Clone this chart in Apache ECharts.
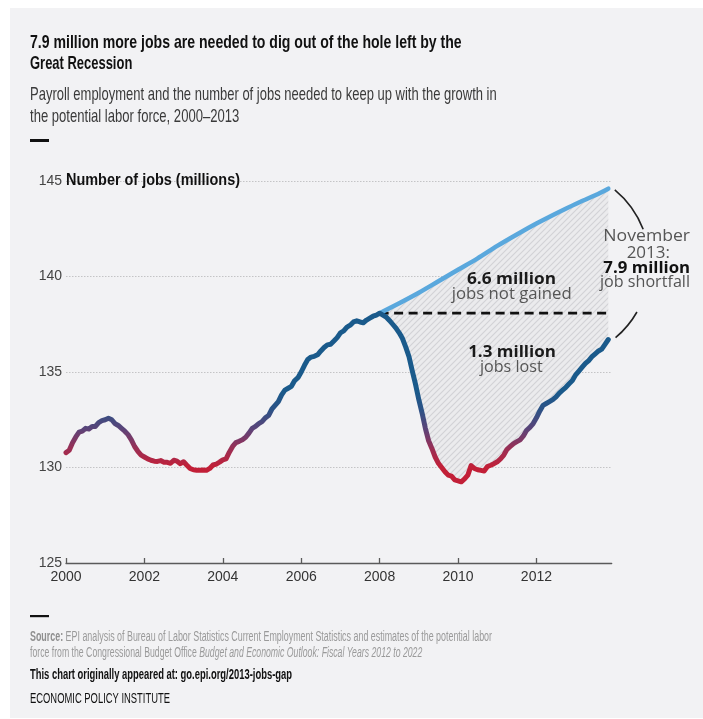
<!DOCTYPE html>
<html><head><meta charset="utf-8">
<script src="https://cdn.jsdelivr.net/npm/echarts@6/dist/echarts.min.js"></script>
<style>
html,body{margin:0;padding:0;background:#fff;}
#panel{position:absolute;left:10px;top:8px;width:693px;height:710px;background:#f2f2f4;}
#main{position:absolute;left:0;top:0;width:703px;height:719px;}
</style></head><body>
<div id="panel"></div><div id="main"></div>
<script>
// ---------------- DATA ----------------
const firstYear = 2000; // monthly series starting January 2000
// Payroll employment, millions, Jan 2000 - Nov 2013
const payrollJobs = [
  130.78,130.90,131.30,131.60,131.85,131.90,132.05,132.02,132.15,132.15,132.35,132.45,
  132.50,132.58,132.50,132.30,132.20,132.05,131.90,131.72,131.45,131.10,130.85,130.65,
  130.55,130.45,130.38,130.33,130.32,130.36,130.28,130.27,130.22,130.38,130.33,130.20,
  130.30,130.12,129.95,129.88,129.86,129.86,129.87,129.85,129.95,130.13,130.18,130.28,
  130.40,130.45,130.80,131.10,131.30,131.37,131.45,131.58,131.80,132.05,132.15,132.30,
  132.40,132.60,132.72,133.05,133.25,133.45,133.80,134.05,134.15,134.25,134.55,134.70,
  135.00,135.35,135.65,135.78,135.82,135.90,136.10,136.28,136.42,136.45,136.62,136.80,
  137.05,137.15,137.35,137.45,137.62,137.68,137.62,137.58,137.72,137.82,137.92,137.98,
  138.08,137.98,137.88,137.70,137.50,137.30,137.05,136.75,136.30,135.80,135.05,134.35,
  133.55,132.85,132.05,131.40,131.00,130.55,130.22,130.00,129.78,129.60,129.55,129.35,
  129.30,129.25,129.40,129.60,130.10,129.95,129.88,129.85,129.82,130.05,130.12,130.20,
  130.30,130.45,130.65,130.95,131.10,131.25,131.35,131.45,131.65,131.95,132.10,132.30,
  132.60,132.95,133.25,133.35,133.45,133.55,133.70,133.90,134.05,134.20,134.38,134.55,
  134.85,135.05,135.25,135.45,135.60,135.80,135.95,136.10,136.20,136.45,136.70
];
const peakIndex = 96; // January 2008
// Jobs needed to keep up with growth in the potential labor force
const potentialYears = [2008.0,2008.5,2009.0,2009.5,2010.0,2010.5,2011.0,2011.5,2012.0,2012.5,2013.0,2013.5,2013+10/12];
const potentialJobs  = [138.08,138.60,139.15,139.75,140.35,140.95,141.60,142.20,142.77,143.30,143.80,144.25,144.60];
const xTickYears = [2000,2002,2004,2006,2008,2010,2012];
const yTickValues = [125,130,135,140,145];

const titleLines = ['7.9 million more jobs are needed to dig out of the hole left by the','Great Recession'];
const subtitleLines = ['Payroll employment and the number of jobs needed to keep up with the growth in','the potential labor force, 2000\u20132013'];
const axisTitle = 'Number of jobs (millions)';

// ---------------- HELPERS ----------------
const mctx = document.createElement('canvas').getContext('2d');
function textW(t, font){ mctx.font = font; return mctx.measureText(t).width; }
function hasFont(name){
  const t='abcdefghijklmnopqrstuvwxyz0123456789';
  const a=textW(t,'40px monospace'), b=textW(t,"40px '"+name+"', monospace");
  const c=textW(t,'40px serif'), d=textW(t,"40px '"+name+"', serif");
  return a!==b || c!==d;
}
const NARROW = hasFont('Liberation Sans Narrow') ? "'Liberation Sans Narrow'" : "'Liberation Sans'";
const NARROW_OK = NARROW.indexOf('Narrow')>=0;
const OPEN = "'Open Sans'";

function fitLine(segs, x, y, target){
  const fonts = segs.map(s => (s.style||'normal')+' '+(s.weight||'normal')+' '+s.size+'px '+NARROW);
  const widths = segs.map((s,i)=>textW(s.text, fonts[i]));
  const total = widths.reduce((a,b)=>a+b,0);
  const k = target/total;
  let cx = x; const els=[];
  segs.forEach((s,i)=>{
    els.push({type:'text', x:cx, y:y, scaleX:k, silent:true, z:100,
      style:{text:s.text, font:fonts[i], fill:s.fill, textAlign:'left', textVerticalAlign:'middle'}});
    cx += widths[i]*k;
  });
  return els;
}
function fitCenter(text, weight, cx, cy, target, fill, size){
  if(!size){
    const base = 20;
    const w0 = textW(text, weight+' '+base+'px '+OPEN);
    size = Math.round(base*target/w0*2)/2;
  }
  const font = weight+' '+size+'px '+OPEN;
  const k = target/textW(text, font);
  return {type:'text', x:cx, y:cy, scaleX:k, silent:true, z:100,
    style:{text:text, font:font, fill:fill, textAlign:'center', textVerticalAlign:'middle'}};
}
function makeHatch(){
  const c=document.createElement('canvas'); c.width=6; c.height=6;
  const g=c.getContext('2d');
  g.fillStyle='#ebebed'; g.fillRect(0,0,6,6);
  g.strokeStyle='#d2d2d5'; g.lineWidth=1.1;
  g.beginPath();
  g.moveTo(0,6); g.lineTo(6,0);
  g.moveTo(-3,3); g.lineTo(3,-3);
  g.moveTo(3,9); g.lineTo(9,3);
  g.stroke();
  return c;
}
const hatch = makeHatch();

// ---------------- SERIES DATA ----------------
const actualPairs = payrollJobs.map((v,i)=>[firstYear + i/12, v]);
const potentialPairs = potentialYears.map((y,i)=>[y, potentialJobs[i]]);
const lastX = actualPairs[actualPairs.length-1][0];
const peakVal = payrollJobs[peakIndex];
const peakX = actualPairs[peakIndex][0];

const chart = echarts.init(document.getElementById('main'), null, {renderer:'canvas'});
const option = {
  backgroundColor:'transparent',
  animation:false,
  grid:{left:66, right:91.3, top:181, bottom:156, containLabel:false},
  xAxis:{
    type:'value', min:2000, max:2013.92, interval:2,
    axisLine:{show:true, lineStyle:{color:'#5a5a5a', width:1.3}},
    axisTick:{show:true, inside:true, length:5, customValues:xTickYears, lineStyle:{color:'#5a5a5a', width:1.3}},
    axisLabel:{customValues:xTickYears, formatter:v=>String(Math.round(v)), color:'#333',
      fontFamily:NARROW, fontSize:NARROW_OK?16.5:14, margin:7},
    splitLine:{show:false}
  },
  yAxis:{
    type:'value', min:125, max:145, interval:5,
    axisLine:{show:false}, axisTick:{show:false},
    axisLabel:{color:'#444', fontFamily:NARROW, fontSize:NARROW_OK?16.5:14, margin:4},
    splitLine:{show:true, lineStyle:{color:'#c4c4c6', type:[1.5,1.5], width:1}}
  },
  visualMap:{
    type:'continuous', show:false, seriesIndex:3, dimension:1, min:130, max:134,
    inRange:{color:['#c21f37','#9a2f55','#5c4378','#2d5286','#1a5a8b']}
  },
  series:[
    {
      type:'custom', z:1, silent:true, clip:true,
      data:[[peakX, peakVal]],
      renderItem:(params, api)=>{
        const pts=[];
        potentialPairs.forEach(p=>pts.push(api.coord(p)));
        for(let i=actualPairs.length-1;i>=peakIndex;i--) pts.push(api.coord(actualPairs[i]));
        return {type:'polygon', shape:{points:pts}, style:{fill:{image:hatch, repeat:'repeat'}}};
      }
    },
    {
      type:'line', z:3, silent:true, symbol:'none',
      data:[[peakX, peakVal],[lastX, peakVal]],
      lineStyle:{color:'#111', width:2.6, type:[9,5.5]}
    },
    {
      type:'line', z:4, silent:true, symbol:'none', smooth:0.3,
      data:potentialPairs,
      lineStyle:{color:'#5aa8dd', width:4.5, cap:'round', join:'round'}
    },
    {
      type:'line', z:5, silent:true, symbol:'none',
      data:actualPairs,
      lineStyle:{width:5, cap:'round', join:'round'}
    }
  ]
};
chart.setOption(option);

// ---------------- TEXT & ANNOTATIONS ----------------
const gfx = [];
gfx.push(...fitLine([{text:titleLines[0], weight:'bold', size:19, fill:'#111'}], 30, 42.7, 431.7));
gfx.push(...fitLine([{text:titleLines[1], weight:'bold', size:19, fill:'#111'}], 30, 64.2, 102.3));
gfx.push(...fitLine([{text:subtitleLines[0], size:19, fill:'#3a3a3a'}], 30, 95, 466.7));
gfx.push(...fitLine([{text:subtitleLines[1], size:19, fill:'#3a3a3a'}], 30, 116.8, 209.3));
gfx.push({type:'rect', silent:true, shape:{x:30, y:139, width:19, height:3}, style:{fill:'#111'}});

const origin = chart.convertToPixel({xAxisIndex:0, yAxisIndex:0}, [2000, 145]);
gfx.push(...fitLine([{text:axisTitle, weight:'bold', size:16, fill:'#111'}], origin[0], origin[1], 174));

// footer
gfx.push({type:'rect', silent:true, shape:{x:30, y:615, width:19, height:2.2}, style:{fill:'#111'}});
gfx.push(...fitLine([
  {text:'Source: ', weight:'bold', size:14, fill:'#8f8f8f'},
  {text:'EPI analysis of Bureau of Labor Statistics Current Employment Statistics and estimates of the potential labor', size:14, fill:'#9a9a9a'}
], 30, 636.7, 462));
gfx.push(...fitLine([
  {text:'force from the Congressional Budget Office ', size:14, fill:'#9a9a9a'},
  {text:'Budget and Economic Outlook: Fiscal Years 2012 to 2022', style:'italic', size:14, fill:'#9a9a9a'}
], 30, 653.3, 392.3));
gfx.push(...fitLine([{text:'This chart originally appeared at: go.epi.org/2013-jobs-gap', weight:'bold', size:14.5, fill:'#111'}], 30, 675, 262));
gfx.push(...fitLine([{text:'ECONOMIC POLICY INSTITUTE', size:14.5, fill:'#111'}], 30, 699, 140));

// in-chart labels
gfx.push(fitCenter('6.6 million','bold',511.5,279.5,89,'#1a1a1a',15.5));
gfx.push(fitCenter('jobs not gained','normal',511.7,295,120,'#555',15.5));
gfx.push(fitCenter('1.3 million','bold',512,352.5,87.7,'#1a1a1a',15.5));
gfx.push(fitCenter('jobs lost','normal',511.3,367.5,62.7,'#555',15.5));
gfx.push(fitCenter('November','normal',646.7,236,86.7,'#555',16.5));
gfx.push(fitCenter('2013:','normal',648.3,253,43.3,'#555',16.5));
gfx.push(fitCenter('7.9 million','bold',646.7,268.5,86.7,'#111',16));
gfx.push(fitCenter('job shortfall','normal',645,282,90,'#555',16.5));

// bracket arc anchored to the two series end points
const pTop = chart.convertToPixel({xAxisIndex:0, yAxisIndex:0}, potentialPairs[potentialPairs.length-1]);
const pBot = chart.convertToPixel({xAxisIndex:0, yAxisIndex:0}, actualPairs[actualPairs.length-1]);
const h = (pBot[1]-pTop[1])/2;
const acx = pTop[0]-55, acy = (pTop[1]+pBot[1])/2;
const ar = Math.hypot(60, h);
const aEnd = Math.atan2(h, 60);
gfx.push({type:'arc', silent:true, z:100, shape:{cx:acx, cy:acy, r:ar, startAngle:-aEnd+0.02, endAngle:-0.37, clockwise:true},
  style:{stroke:'#222', lineWidth:1.6, fill:null}});
gfx.push({type:'arc', silent:true, z:100, shape:{cx:acx, cy:acy, r:ar, startAngle:0.52, endAngle:aEnd-0.03, clockwise:true},
  style:{stroke:'#222', lineWidth:1.6, fill:null}});

chart.setOption({graphic:{elements:gfx}});
</script>
</body></html>
